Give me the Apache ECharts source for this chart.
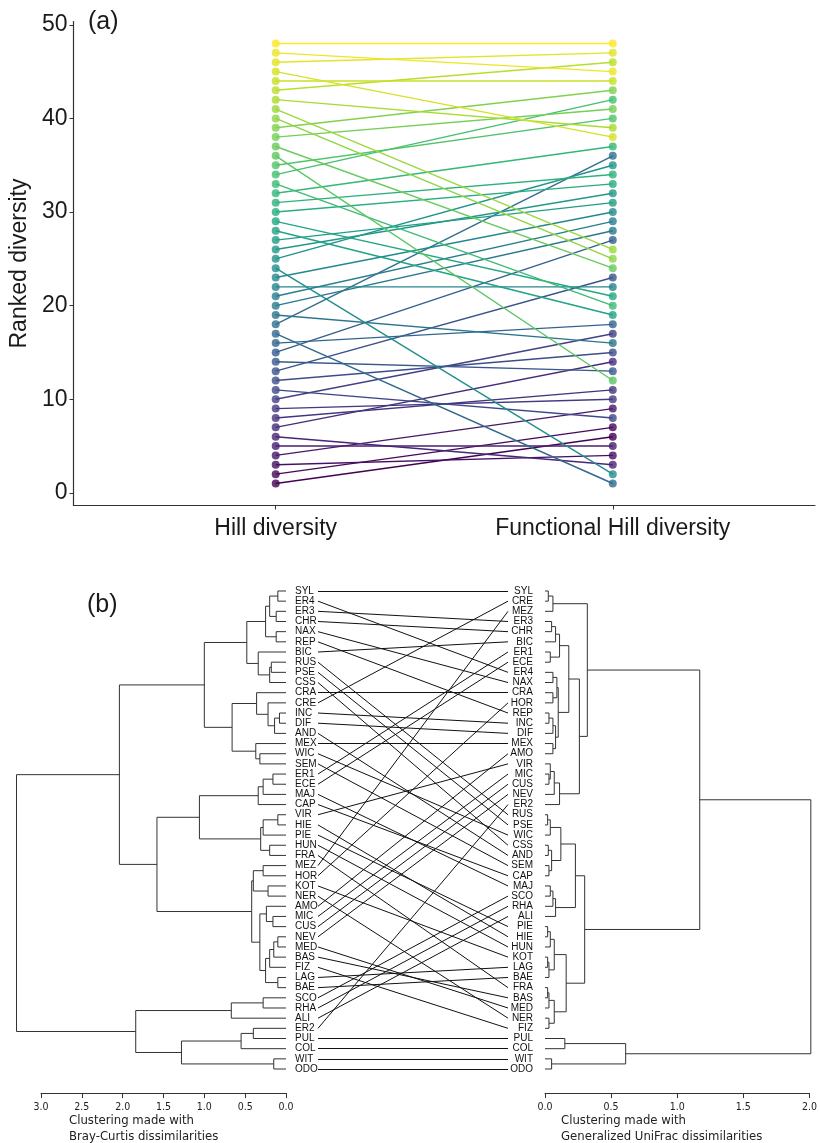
<!DOCTYPE html>
<html>
<head>
<meta charset="utf-8">
<script src="https://cdn.jsdelivr.net/npm/echarts@6/dist/echarts.min.js"></script>
<style>
  html, body { margin: 0; padding: 0; background: #fff; }
  #chart { width: 820px; height: 1143px; }
</style>
</head>
<body>
<div id="chart"></div>
<script>
// (a) rank of every site: Hill diversity -> Functional Hill diversity
var hillRank = [1,2,3,4,5,6,7,8,9,10,11,12,13,14,15,16,17,18,19,20,21,22,23,24,
                25,26,27,28,29,30,31,32,33,34,35,36,37,38,39,40,41,42,43,44,45,46,47,48];
var funcRank = [6,7,4,9,5,3,14,11,10,17,8,15,23,13,27,18,1,36,16,28,29,22,30,2,
                35,32,31,19,21,33,34,37,20,42,40,12,24,41,43,25,26,39,46,44,38,47,45,48];
var rankTicks = [0, 10, 20, 30, 40, 50];
var measures = ['Hill diversity', 'Functional Hill diversity'];

// (b) leaf order of both dendrograms
var brayOrder = ['SYL','ER4','ER3','CHR','NAX','REP','BIC','RUS','PSE','CSS','CRA','CRE',
  'INC','DIF','AND','MEX','WIC','SEM','ER1','ECE','MAJ','CAP','VIR','HIE','PIE','HUN',
  'FRA','MEZ','HOR','KOT','NER','AMO','MIC','CUS','NEV','MED','BAS','FIZ','LAG','BAE',
  'SCO','RHA','ALI','ER2','PUL','COL','WIT','ODO'];
var unifracOrder = ['SYL','CRE','MEZ','ER3','CHR','BIC','ER1','ECE','ER4','NAX','CRA','HOR',
  'REP','INC','DIF','MEX','AMO','VIR','MIC','CUS','NEV','ER2','RUS','PSE','WIC','CSS',
  'AND','SEM','CAP','MAJ','SCO','RHA','ALI','PIE','HIE','HUN','KOT','LAG','BAE','FRA',
  'BAS','MED','NER','FIZ','PUL','COL','WIT','ODO'];

// merges as [height, a, b]
var brayTree = [3.3,
  [2.04,
    [1.0,
      [0.48,
        [0.25, [0.2, [0.1,'SYL','ER4'], [0.12,'ER3','CHR']], [0.12,'NAX','REP']],
        [0.34, 'BIC', [0.2, [0.18,'RUS','PSE'], 'CSS']]],
      [0.66,
        [0.36, 'CRA', [0.22, 'CRE', [0.14, [0.08,'INC','DIF'], 'AND']]],
        [0.37, 'MEX', [0.32,'WIC','SEM']]]],
    [1.58,
      [1.06,
        [0.34, [0.28, [0.16,'ER1','ECE'], 'MAJ'], 'CAP'],
        [0.31, [0.28, [0.1,'VIR','HIE'], 'PIE'], [0.2,'HUN','FRA']]],
      [0.42,
        [0.4, [0.28,'MEZ','HOR'], [0.22,'KOT','NER']],
        [0.32, [0.24,'AMO',[0.16,'MIC','CUS']],
               [0.25, [0.2, [0.15, [0.1,'NEV','MED'], 'BAS'], 'FIZ'], [0.1,'LAG','BAE']]]]]],
  [1.84,
    [0.67, [0.28,'SCO','RHA'], 'ALI'],
    [1.28, [0.55, [0.4,'ER2','PUL'], 'COL'], [0.15,'WIT','ODO']]]];

var unifracTree = [2.01,
  [1.17,
    [0.32,
      [0.06, [0.025,'SYL','CRE'], 'MEZ'],
      [0.26,
        [0.18,
          [0.11, [0.08, [0.05,'ER3','CHR'], 'BIC'], [0.04,'ER1','ECE']],
          [0.1, [0.09, [0.06,'ER4','NAX'], [0.06,'CRA','HOR']],
                [0.08, [0.06, [0.03,'REP','INC'], 'DIF'], [0.06,'MEX','AMO']]]],
        [0.11, [0.07, [0.04,'VIR',[0.03,'MIC','CUS']], 'NEV'], 'ER2']]],
    [0.3,
      [0.23,
        [0.12, [0.04, [0.02,'RUS','PSE'], 'WIC'], [0.05, [0.025,'CSS','AND'], [0.03,'SEM','CAP']]],
        [0.08, [0.06, [0.04,'MAJ','SCO'], 'RHA'], 'ALI']],
      [0.16,
        [0.07, [0.04, [0.02,'PIE','HIE'], 'HUN'], [0.03, [0.02,'KOT','LAG'], 'BAE']],
        [0.07, [0.03, [0.02,'FRA','BAS'], 'MED'], [0.03,'NER','FIZ']]]]],
  [0.61, [0.15,'PUL','COL'], [0.05,'WIT','ODO']]];

// viridis
var viridisStops = ['#440154','#482475','#414487','#355F8D','#2A788E','#21918C',
                    '#22A884','#44BF70','#7AD151','#BDDF26','#FDE725'];
function viridis(t) {
  var s = t * (viridisStops.length - 1), i = Math.min(Math.floor(s), viridisStops.length - 2), f = s - i;
  function rgb(h) { return [parseInt(h.substr(1,2),16), parseInt(h.substr(3,2),16), parseInt(h.substr(5,2),16)]; }
  var a = rgb(viridisStops[i]), b = rgb(viridisStops[i + 1]);
  return 'rgb(' + a.map(function (v, k) { return Math.round(v + (b[k] - v) * f); }).join(',') + ')';
}

function positions(order) {
  var m = {};
  order.forEach(function (n, i) { m[n] = i; });
  return m;
}
// elbow segments of a dendrogram, node drawn at the mean of its children
function walk(node, pos, segs) {
  if (typeof node === 'string') return { h: 0, y: pos[node] };
  var a = walk(node[1], pos, segs), b = walk(node[2], pos, segs);
  segs.push({ coords: [[a.h, a.y], [node[0], a.y], [node[0], b.y], [b.h, b.y]] });
  return { h: node[0], y: (a.y + b.y) / 2 };
}

var brayPos = positions(brayOrder), unifracPos = positions(unifracOrder);
var braySegs = [], unifracSegs = [];
walk(brayTree, brayPos, braySegs);
walk(unifracTree, unifracPos, unifracSegs);

var links = brayOrder.map(function (n) {
  return { coords: [[0, brayPos[n]], [1, unifracPos[n]]] };
});

var series = [];
var points = [];
for (var i = 0; i < hillRank.length; i++) {
  var c = viridis((hillRank[i] - 1) / (hillRank.length - 1));
  series.push({
    type: 'line', xAxisIndex: 0, yAxisIndex: 0, symbol: 'none',
    data: [[1, hillRank[i]], [2, funcRank[i]]],
    lineStyle: { color: c, width: 1.4 }, z: 2, silent: true
  });
  points.push({ value: [1, hillRank[i]], itemStyle: { color: c } });
  points.push({ value: [2, funcRank[i]], itemStyle: { color: c } });
}
series.push({
  type: 'scatter', xAxisIndex: 0, yAxisIndex: 0, symbolSize: 8, data: points, z: 3, silent: true
});

var dendroLine = { color: '#333', width: 1, opacity: 1 };
series.push({
  type: 'lines', coordinateSystem: 'cartesian2d', xAxisIndex: 1, yAxisIndex: 1,
  polyline: true, clip: false, data: braySegs, lineStyle: dendroLine, silent: true
});
series.push({
  type: 'lines', coordinateSystem: 'cartesian2d', xAxisIndex: 3, yAxisIndex: 4,
  polyline: true, clip: false, data: unifracSegs, lineStyle: dendroLine, silent: true
});
series.push({
  type: 'lines', coordinateSystem: 'cartesian2d', xAxisIndex: 2, yAxisIndex: 5,
  data: links, lineStyle: { color: '#111', width: 1, opacity: 1 }, silent: true
});

var sans = 'Liberation Sans, Arial, sans-serif';
var narrow = '"DejaVu Sans Condensed", "Liberation Sans Narrow", "DejaVu Sans", sans-serif';
var ink = '#1a1a1a';

var leafTop = 585.9, leafH = 488.2;
function dendroX(gridIndex, max, inverse) {
  return {
    type: 'value', gridIndex: gridIndex, min: 0, max: max, inverse: inverse,
    interval: 0.5, position: 'bottom', offset: 19,
    axisLine: { show: true, onZero: false, lineStyle: { color: '#333', width: 1 } },
    axisTick: { show: true, length: 5, lineStyle: { color: '#333' } },
    axisLabel: { fontFamily: narrow, fontSize: 10.5, color: '#222', margin: 9,
                 formatter: function (v) { return v.toFixed(1); } },
    splitLine: { show: false }
  };
}

var option = {
  animation: false,
  backgroundColor: '#fff',
  grid: [
    { left: 68, right: 5, top: 21.5, height: 484 },
    { left: 41, width: 245, top: leafTop, height: leafH },
    { left: 318, width: 190, top: leafTop, height: leafH },
    { left: 545, width: 265, top: leafTop, height: leafH }
  ],
  xAxis: [
    {
      type: 'value', gridIndex: 0, min: 0.4, max: 2.6,
      axisLine: { show: true, onZero: false, lineStyle: { color: '#333', width: 1.2 } },
      axisTick: { show: true, customValues: [1, 2], length: 4, lineStyle: { color: '#333' } },
      axisLabel: { customValues: [1, 2], fontFamily: sans, fontSize: 23, color: ink, margin: 12,
                   formatter: function (v) { return measures[Math.round(v) - 1]; } },
      splitLine: { show: false }
    },
    dendroX(1, 3, true),
    { type: 'value', gridIndex: 2, min: 0, max: 1, show: false },
    dendroX(3, 2, false)
  ],
  yAxis: [
    {
      type: 'value', gridIndex: 0, min: -1.35, max: 50.35,
      name: 'Ranked diversity', nameLocation: 'middle', nameGap: 33,
      nameTextStyle: { fontFamily: sans, fontSize: 23, color: ink },
      axisLine: { show: true, onZero: false, lineStyle: { color: '#333', width: 1.2 } },
      axisTick: { show: true, customValues: rankTicks, length: 4, lineStyle: { color: '#333' } },
      axisLabel: { customValues: rankTicks, fontFamily: sans, fontSize: 23, color: ink, margin: 6 },
      splitLine: { show: false }
    },
    { type: 'value', gridIndex: 1, min: -0.5, max: 47.5, inverse: true, show: false },
    {
      type: 'category', gridIndex: 2, data: brayOrder, inverse: true, position: 'left',
      axisLine: { show: false }, axisTick: { show: false },
      axisLabel: { align: 'left', margin: 23, fontFamily: sans, fontSize: 10, color: '#111', interval: 0 }
    },
    {
      type: 'category', gridIndex: 2, data: unifracOrder, inverse: true, position: 'right',
      axisLine: { show: false }, axisTick: { show: false },
      axisLabel: { align: 'right', margin: 25, fontFamily: sans, fontSize: 10, color: '#111', interval: 0 }
    },
    { type: 'value', gridIndex: 3, min: -0.5, max: 47.5, inverse: true, show: false },
    { type: 'value', gridIndex: 2, min: -0.5, max: 47.5, inverse: true, show: false }
  ],
  graphic: [
    { type: 'text', left: 88, top: 10, style: { text: '(a)', fontFamily: sans, fontSize: 25, fill: ink } },
    { type: 'text', left: 87, top: 593, style: { text: '(b)', fontFamily: sans, fontSize: 25, fill: ink } },
    { type: 'text', left: 69, top: 1113,
      style: { text: 'Clustering made with\nBray-Curtis dissimilarities', fontFamily: narrow,
               fontSize: 13, lineHeight: 15.5, fill: '#222' } },
    { type: 'text', left: 561, top: 1113,
      style: { text: 'Clustering made with\nGeneralized UniFrac dissimilarities', fontFamily: narrow,
               fontSize: 13, lineHeight: 15.5, fill: '#222' } }
  ],
  series: series
};

var chart = echarts.init(document.getElementById('chart'), null, { renderer: 'canvas' });
chart.setOption(option);
</script>
</body>
</html>
